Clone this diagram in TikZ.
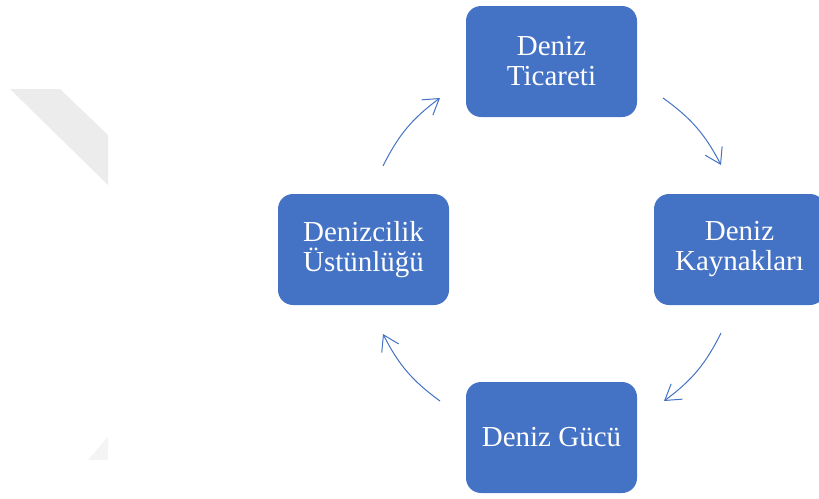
\documentclass[tikz,border=0pt]{standalone}
\usepackage{fontspec}
\setmainfont{Liberation Serif}
\usetikzlibrary{arrows.meta}

\definecolor{boxblue}{HTML}{4472C4}
\definecolor{bandgray}{HTML}{ECECEC}
\definecolor{bandlight}{HTML}{F4F4F4}

\tikzset{
  cyclebox/.style={rectangle, rounded corners=15pt, fill=boxblue, draw=none,
    minimum width=171pt, minimum height=111pt, inner sep=0pt,
    text=white, align=center,
    font=\fontsize{29}{30}\selectfont},
  cyclearrow/.style={draw=boxblue, line width=1pt,
    -{Straight Barb[length=15pt, width=19pt, line width=1pt]}},
}

\begin{document}
\begin{tikzpicture}[x=1pt, y=-1pt]
  \useasboundingbox (0,0) rectangle (819,498);
  \clip (0,0) rectangle (819,498);

  % faint background bands at the left
  \fill[bandgray] (10,89) -- (60,89) -- (108,135) -- (108,185) -- cycle;
  \fill[bandlight] (108,437) -- (108,460) -- (88,460) -- cycle;

  % the four stages of the cycle
  \node[cyclebox] (trade)    at (551.5,61.5)  {Deniz\\Ticareti};
  \node[cyclebox] (resource) at (739.5,249.5) {Deniz\\Kaynakları};
  \node[cyclebox] (power)    at (551.5,437.5) {Deniz Gücü};
  \node[cyclebox] (mastery)  at (363.5,249.5) {Denizcilik\\Üstünlüğü};

  % arrow end points on the circle through the box centres
  \coordinate (a1s) at (383,166);
  \coordinate (a1e) at (440,98);
  \coordinate (a2s) at (663,98);
  \coordinate (a2e) at (721,165);
  \coordinate (a3s) at (721,333);
  \coordinate (a3e) at (664,401);
  \coordinate (a4s) at (440,401);
  \coordinate (a4e) at (383,334);

  \draw[cyclearrow] (a1s) to[bend left=13.5] (a1e);
  \draw[cyclearrow] (a2s) to[bend left=13.5] (a2e);
  \draw[cyclearrow] (a3s) to[bend left=13.5] (a3e);
  \draw[cyclearrow] (a4s) to[bend left=13.5] (a4e);
\end{tikzpicture}
\end{document}
